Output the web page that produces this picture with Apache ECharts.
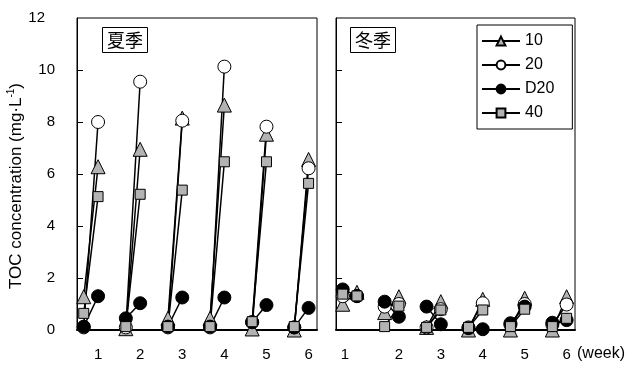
<!DOCTYPE html>
<html>
<head>
<meta charset="utf-8">
<script src="https://cdn.jsdelivr.net/npm/echarts@6/dist/echarts.min.js"></script>
<style>
html,body{margin:0;padding:0;background:#fff;}
#c{width:633px;height:365px;}
</style>
</head>
<body>
<div id="c"></div>
<script>
// ---- data ----
const weeks = [1, 2, 3, 4, 5, 6];
const weekLabels = ['1', '2', '3', '4', '5', '6'];
const yTicks = [0, 2, 4, 6, 8, 10, 12];
const seriesNames = ['10', '20', 'D20', '40'];
const seasonNames = ['夏季', '冬季'];
const sampleLead = 0.34; // first sample of each week, in weeks before the second

// summer (夏季): value before / after within each week
const sum10Before  = [1.28, 0.05, 0.45, 0.45, 0.04, 0.0];
const sum10After   = [6.28, 6.95, 8.15, 8.65, 7.53, 6.56];
const sum20Before  = [0.1, 0.1, 0.1, 0.1, 0.3, 0.1];
const sum20After   = [8.0, 9.55, 8.05, 10.13, 7.82, 6.22];
const sumD20Before = [0.13, 0.45, 0.13, 0.13, 0.3, 0.1];
const sumD20After  = [1.3, 1.03, 1.25, 1.25, 0.96, 0.85];
const sum40Before  = [0.64, 0.13, 0.13, 0.13, 0.32, 0.13];
const sum40After   = [5.13, 5.22, 5.38, 6.47, 6.47, 5.64];

// winter (冬季)
const win10Before  = [0.99, 0.67, 0.1, 0.0, 0.0, 0.0];
const win10After   = [1.45, 1.28, 1.09, 1.18, 1.22, 1.28];
const win20Before  = [1.3, 0.9, 0.1, 0.1, 0.2, 0.2];
const win20After   = [1.3, 1.0, 0.8, 1.03, 1.0, 0.98];
const winD20Before = [1.56, 1.09, 0.9, 0.07, 0.26, 0.28];
const winD20After  = [1.31, 0.51, 0.22, 0.03, 0.9, 0.38];
const win40Before  = [1.38, 0.13, 0.1, 0.1, 0.13, 0.13];
const win40After   = [1.31, 0.92, 0.77, 0.77, 0.8, 0.45];

// ---- build ----
function pts(before, after) {
  const out = [];
  weeks.forEach((w, i) => {
    out.push([w - sampleLead, before[i]]);
    out.push([w, after[i]]);
    out.push([w + 0.1, '-']);
  });
  return out;
}

const FONT = 'Liberation Sans, Arial, sans-serif';
const GRAY = '#b3b3b3';
const styles = {
  '10':  { symbol: 'triangle', size: 14, fill: GRAY },
  '20':  { symbol: 'circle', size: 13, fill: '#ffffff' },
  'D20': { symbol: 'circle', size: 13, fill: '#000000' },
  '40':  { symbol: 'rect', size: 10, fill: GRAY }
};

function mkSeries(name, idx, before, after) {
  const s = styles[name];
  return {
    type: 'line', name: name,
    xAxisIndex: idx, yAxisIndex: idx,
    data: pts(before, after),
    symbol: s.symbol, symbolSize: s.size,
    showAllSymbol: true,
    connectNulls: false,
    lineStyle: { color: '#000', width: 1.5 },
    itemStyle: { color: s.fill, borderColor: '#000', borderWidth: 1, opacity: 1 },
    emphasis: { disabled: true },
    animation: false
  };
}

// draw order (bottom -> top): 10, 20, D20, 40
const series = [
  mkSeries('10', 0, sum10Before, sum10After),
  mkSeries('20', 0, sum20Before, sum20After),
  mkSeries('D20', 0, sumD20Before, sumD20After),
  mkSeries('40', 0, sum40Before, sum40After),
  mkSeries('10', 1, win10Before, win10After),
  mkSeries('20', 1, win20Before, win20After),
  mkSeries('D20', 1, winD20Before, winD20After),
  mkSeries('40', 1, win40Before, win40After)
];

function xAxisFor(idx, customVals, withName) {
  const ax = {
    type: 'value', gridIndex: idx, min: 0.5, max: 6.2,
    axisLine: { show: true, onZero: false, lineStyle: { color: '#000', width: 2 } },
    axisTick: { show: false },
    splitLine: { show: false },
    axisLabel: {
      customValues: customVals,
      formatter: v => weekLabels[Math.max(0, Math.round(v) - 1)],
      color: '#000', fontSize: 15, fontFamily: FONT, margin: 17
    }
  };
  if (withName) {
    ax.name = '(week)';
    ax.nameLocation = 'end';
    ax.nameGap = 2;
    ax.nameTextStyle = { color: '#000', fontSize: 16, fontFamily: FONT, verticalAlign: 'top', padding: [16, 0, 0, 0] };
  }
  return ax;
}

function yAxisFor(idx, withLabels) {
  const ax = {
    type: 'value', gridIndex: idx, min: 0, max: 12, interval: 2,
    axisLine: { show: true, lineStyle: { color: '#000', width: 1 } },
    axisTick: { show: true, inside: true, length: 6, lineStyle: { color: '#000' },
      customValues: yTicks.slice(1, -1) },
    splitLine: { show: false },
    axisLabel: withLabels ? {
      color: '#000', fontSize: 15, fontFamily: FONT, margin: 22,
      formatter: v => v === 12 ? '{s|12}' : String(v),
      rich: { s: { fontSize: 15, fontFamily: FONT, color: '#000', padding: [0, 10, 0, 0] } }
    } : { show: false }
  };
  if (withLabels) {
    ax.name = 'TOC concentration (mg·L{sup|-1})';
    ax.nameLocation = 'middle';
    ax.nameGap = 43;
    ax.nameTextStyle = {
      color: '#000', fontSize: 17, fontFamily: FONT, padding: [0, 24, 0, 0],
      rich: { sup: { fontSize: 10, fontFamily: FONT, color: '#000', padding: [0, 0, 9, 0] } }
    };
  }
  return ax;
}

const winterLabelPos = [0.71, 2, 3, 4, 5, 6];

const option = {
  animation: false,
  backgroundColor: '#fff',
  grid: [
    { left: 77, top: 18, width: 240, height: 312, show: true, borderColor: '#000', borderWidth: 1, containLabel: false },
    { left: 336, top: 18, width: 239, height: 312, show: true, borderColor: '#000', borderWidth: 1, containLabel: false }
  ],
  xAxis: [xAxisFor(0, weeks, false), xAxisFor(1, winterLabelPos, true)],
  yAxis: [yAxisFor(0, true), yAxisFor(1, false)],
  title: [
    { text: seasonNames[0], left: 102, top: 27, padding: [4, 5, 4, 5], borderColor: '#000', borderWidth: 1,
      textStyle: { fontSize: 18, fontWeight: 'normal', color: '#000', fontFamily: 'Noto Sans CJK JP' } },
    { text: seasonNames[1], left: 350, top: 27, padding: [4, 5, 4, 5], borderColor: '#000', borderWidth: 1,
      textStyle: { fontSize: 18, fontWeight: 'normal', color: '#000', fontFamily: 'Noto Sans CJK JP' } }
  ],
  legend: {
    data: seriesNames,
    orient: 'vertical',
    left: 477, top: 25,
    padding: [8, 18, 8, 4],
    itemWidth: 38, itemHeight: 11, itemGap: 8,
    borderColor: '#000', borderWidth: 1,
    textStyle: { color: '#000', fontSize: 16, fontFamily: FONT, lineHeight: 16 },
    selectedMode: false
  },
  series: series
};

const chart = echarts.init(document.getElementById('c'), null, { renderer: 'canvas' });
chart.setOption(option);
</script>
</body>
</html>
